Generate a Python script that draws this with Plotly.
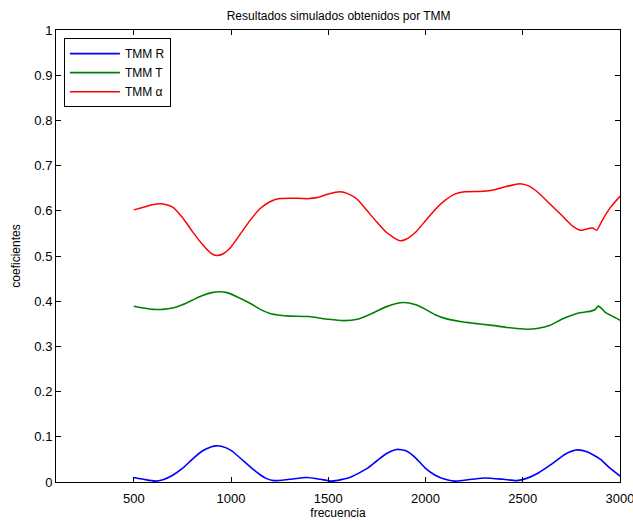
import plotly.graph_objects as go

# Data
freq_R = [500, 550, 610, 650, 700, 750, 800, 850, 900, 925, 950, 1000, 1050, 1100, 1150, 1180, 1220,
          1300, 1390, 1460, 1520, 1610, 1650, 1700, 1750, 1800, 1850, 1900, 1950, 2000, 2050, 2100,
          2150, 2200, 2300, 2400, 2470, 2520, 2580, 2650, 2720, 2780, 2830, 2870, 2900, 2950, 3000]
val_R = [0.010, 0.006, 0.002, 0.005, 0.015, 0.030, 0.050, 0.068, 0.078, 0.080, 0.079, 0.070, 0.052,
         0.033, 0.016, 0.008, 0.003, 0.006, 0.010, 0.006, 0.002, 0.010, 0.018, 0.030, 0.047, 0.063,
         0.072, 0.069, 0.053, 0.030, 0.015, 0.006, 0.002, 0.004, 0.009, 0.006, 0.003, 0.008, 0.020,
         0.040, 0.062, 0.071, 0.067, 0.058, 0.050, 0.030, 0.013]

freq_T = [500, 550, 600, 650, 700, 750, 800, 850, 900, 940, 980, 1030, 1100, 1150, 1200, 1250, 1300,
          1400, 1500, 1580, 1650, 1720, 1800, 1887, 1950, 2000, 2050, 2100, 2178, 2250, 2333, 2420,
          2521, 2580, 2641, 2700, 2778, 2850, 2870, 2889, 2905, 2923, 2960, 3000]
val_T = [0.389, 0.385, 0.382, 0.382, 0.385, 0.392, 0.402, 0.412, 0.419, 0.421, 0.419, 0.410, 0.395,
         0.382, 0.373, 0.369, 0.367, 0.366, 0.360, 0.357, 0.360, 0.372, 0.388, 0.397, 0.392, 0.382,
         0.370, 0.362, 0.355, 0.351, 0.347, 0.342, 0.338, 0.340, 0.347, 0.360, 0.373, 0.378, 0.381,
         0.389, 0.384, 0.376, 0.367, 0.358]

freq_A = [500, 550, 600, 650, 700, 750, 800, 850, 900, 925, 960, 1000, 1050, 1100, 1150, 1200, 1250,
          1300, 1400, 1450, 1500, 1560, 1600, 1650, 1700, 1750, 1800, 1866, 1900, 1950, 2000, 2050,
          2100, 2150, 2200, 2300, 2350, 2400, 2486, 2530, 2580, 2640, 2700, 2760, 2800, 2840, 2860,
          2880, 2910, 2950, 3000]
val_A = [0.602, 0.608, 0.614, 0.615, 0.608, 0.585, 0.555, 0.527, 0.505, 0.501, 0.505, 0.520, 0.550,
         0.580, 0.605, 0.620, 0.627, 0.628, 0.627, 0.630, 0.637, 0.642, 0.638, 0.625, 0.600, 0.575,
         0.552, 0.534, 0.537, 0.553, 0.578, 0.603, 0.623, 0.637, 0.642, 0.643, 0.646, 0.652, 0.660,
         0.655, 0.640, 0.615, 0.590, 0.565, 0.557, 0.561, 0.562, 0.557, 0.580, 0.607, 0.632]

x_ticks = [500, 1000, 1500, 2000, 2500, 3000]
y_ticks = [0, 0.1, 0.2, 0.3, 0.4, 0.5, 0.6, 0.7, 0.8, 0.9, 1]
y_ticklabels = ["0", "0.1", "0.2", "0.3", "0.4", "0.5", "0.6", "0.7", "0.8", "0.9", "1"]

FONT = "Liberation Sans, Arial, Helvetica, sans-serif"

fig = go.Figure()
fig.add_trace(go.Scatter(x=freq_R, y=val_R, mode="lines", name="TMM R",
                         line=dict(color="#0000ff", width=1.6, shape="spline", smoothing=0.6)))
fig.add_trace(go.Scatter(x=freq_T, y=val_T, mode="lines", name="TMM T",
                         line=dict(color="#008000", width=1.6, shape="spline", smoothing=0.6)))
fig.add_trace(go.Scatter(x=freq_A, y=val_A, mode="lines", name="TMM α",
                         line=dict(color="#ff0000", width=1.5, shape="spline", smoothing=0.6)))

axis_common = dict(showgrid=False, zeroline=False, showline=True, linecolor="black", linewidth=1,
                   mirror="ticks", ticks="inside", ticklen=5, tickcolor="black", tickwidth=1,
                   automargin=False, ticklabeloverflow="allow",
                   tickfont=dict(family=FONT, size=13, color="black"))

fig.update_layout(
    width=633, height=521,
    margin=dict(l=56, r=13, t=30, b=39),
    paper_bgcolor="white", plot_bgcolor="white",
    font=dict(family=FONT, size=13, color="black"),
    title=dict(text="Resultados simulados obtenidos por TMM", x=0.535, xanchor="center",
               y=1 - 16 / 521, yanchor="middle", yref="container",
               font=dict(family=FONT, size=12, color="black")),
    xaxis=dict(range=[100, 3000], tickvals=x_ticks, ticklabelstandoff=4,
               title=dict(text="frecuencia", standoff=4, font=dict(family=FONT, size=12)),
               **axis_common),
    yaxis=dict(range=[0, 1], tickvals=y_ticks, ticktext=y_ticklabels,
               title=dict(text="coeficientes", standoff=11, font=dict(family=FONT, size=12)),
               **axis_common),
    legend=dict(x=0.014, y=0.982, xanchor="left", yanchor="top",
                bordercolor="black", borderwidth=1, bgcolor="white",
                font=dict(family=FONT, size=12, color="black"),
                tracegroupgap=0, itemwidth=50, entrywidth=95, entrywidthmode="pixels"),
    showlegend=True,
)

fig.write_html("out.html", config={"displayModeBar": False},
               post_script="document.body.style.margin='0';")
